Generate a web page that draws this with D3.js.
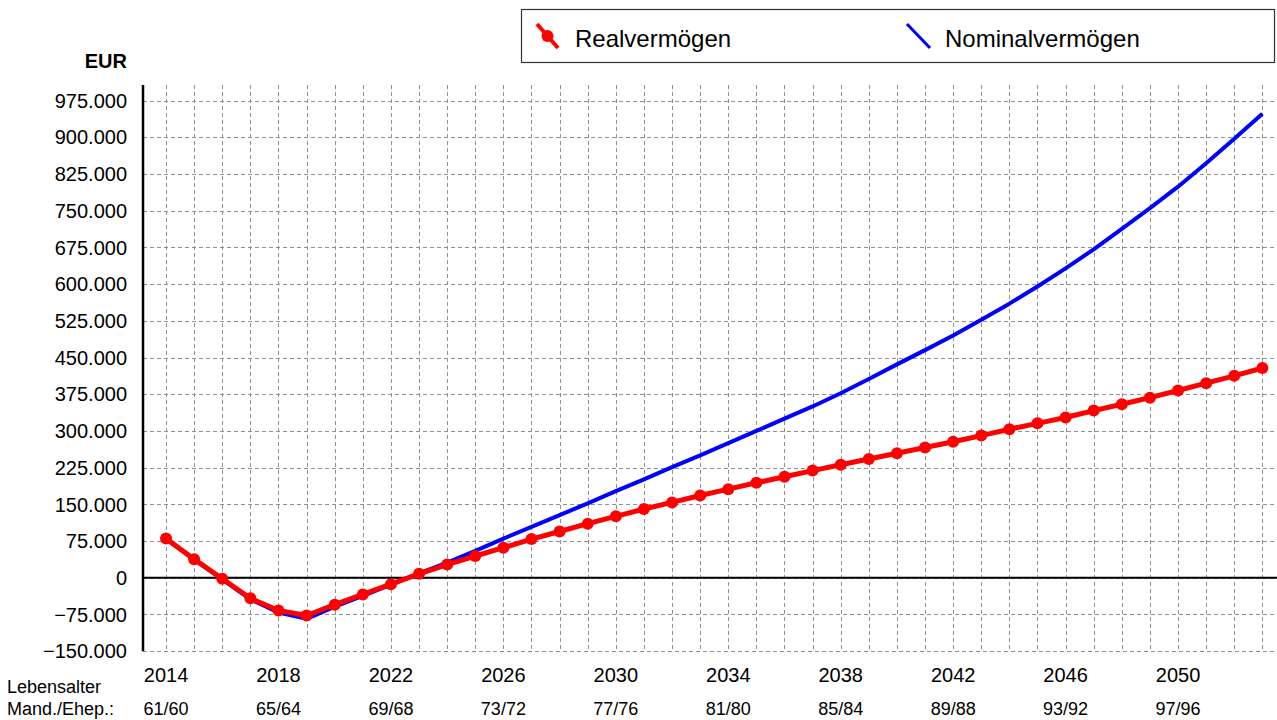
<!DOCTYPE html>
<html>
<head>
<meta charset="utf-8">
<script src="https://cdn.jsdelivr.net/npm/d3@7"></script>
<style>
  html, body { margin: 0; padding: 0; background: #fff; }
  svg { display: block; font-family: "Liberation Sans", Arial, sans-serif; }
</style>
</head>
<body>
<svg id="chart" width="1277" height="720"></svg>
<script>
const years = d3.range(2014, 2054);
const realValues = [
  80000, 38000, -2000, -42000, -67000, -77000, -55000, -34000, -13000, 8000,
  27000, 44500, 61500, 79000, 94500, 110500, 125500, 140500, 154000, 168000,
  181000, 194000, 206500, 219000, 231000, 242500, 254500, 266000, 278000, 290500,
  303500, 315500, 327500, 341500, 354500, 368000, 382500, 397500, 412500, 428500
];
const nominalValues = [
  80000, 37000, -3000, -44000, -71000, -84000, -59000, -37000, -14000, 9000,
  31000, 55000, 80000, 104000, 128000, 152000, 177000, 201000, 226000, 250000,
  275000, 300000, 325000, 350000, 377000, 406000, 436000, 465000, 495000, 527000,
  560000, 595000, 632000, 671000, 713000, 755000, 799000, 847000, 897000, 948000
];
const yTicks = d3.range(-150000, 975001, 75000);
const xLabelYears = [2014, 2018, 2022, 2026, 2030, 2034, 2038, 2042, 2046, 2050];
const ageLabels = ["61/60", "65/64", "69/68", "73/72", "77/76", "81/80", "85/84", "89/88", "93/92", "97/96"];
const seriesNames = ["Realvermögen", "Nominalvermögen"];

const svg = d3.select("#chart");
const pLeft = 143, pRight = 1277, pTop = 85, pBottom = 651.2;

const x = d3.scaleLinear().domain([2013.18, 2053.52]).range([pLeft, pRight]);
const y = d3.scaleLinear().domain([-150000, 1006700]).range([pBottom, pTop]);

const de = d3.formatLocale({decimal: ",", thousands: ".", grouping: [3], currency: ["", " €"]});
const fmt = de.format(",d");

// grid
const grid = svg.append("g");
grid.selectAll("line.h").data(yTicks).join("line").attr("class", "h")
  .attr("x1", pLeft).attr("x2", pRight)
  .attr("y1", d => Math.round(y(d)) + 0.5).attr("y2", d => Math.round(y(d)) + 0.5)
  .attr("stroke", "#909090").attr("stroke-width", 1).attr("stroke-dasharray", "4,3");
grid.selectAll("line.v").data(years).join("line").attr("class", "v")
  .attr("x1", d => Math.round(x(d)) + 0.5).attr("x2", d => Math.round(x(d)) + 0.5)
  .attr("y1", pTop).attr("y2", pBottom)
  .attr("stroke", "#909090").attr("stroke-width", 1).attr("stroke-dasharray", "4,3");

// zero line
svg.append("line").attr("x1", pLeft).attr("x2", pRight)
  .attr("y1", y(0)).attr("y2", y(0)).attr("stroke", "#000").attr("stroke-width", 2);

// y axis line
svg.append("line").attr("x1", pLeft).attr("x2", pLeft)
  .attr("y1", pTop).attr("y2", pBottom).attr("stroke", "#000").attr("stroke-width", 2.5);

// y tick labels
svg.append("g").selectAll("text").data(yTicks).join("text")
  .attr("x", 127).attr("y", d => y(d)).attr("dy", "0.36em")
  .attr("text-anchor", "end").attr("font-size", 20).attr("fill", "#000")
  .text(d => fmt(d));

svg.append("text").attr("x", 127).attr("y", 68).attr("text-anchor", "end")
  .attr("font-size", 20).attr("font-weight", "bold").text("EUR");

// x labels
svg.append("g").selectAll("text").data(xLabelYears).join("text")
  .attr("x", d => x(d)).attr("y", 682).attr("text-anchor", "middle")
  .attr("font-size", 20).text(d => d);
svg.append("g").selectAll("text").data(xLabelYears).join("text")
  .attr("x", d => x(d)).attr("y", 715).attr("text-anchor", "middle")
  .attr("font-size", 18).text((d, i) => ageLabels[i]);
svg.append("text").attr("x", 7).attr("y", 693).attr("font-size", 18).text("Lebensalter");
svg.append("text").attr("x", 7).attr("y", 715).attr("font-size", 18).text("Mand./Ehep.:");

// lines
const line = d3.line().x((d, i) => x(years[i])).y(d => y(d));
svg.append("path").datum(nominalValues).attr("d", line)
  .attr("fill", "none").attr("stroke", "#0000ff").attr("stroke-width", 4)
  .attr("stroke-linejoin", "round");
svg.append("path").datum(realValues).attr("d", line)
  .attr("fill", "none").attr("stroke", "#ff0000").attr("stroke-width", 5)
  .attr("stroke-linejoin", "round");
svg.append("g").selectAll("circle").data(realValues).join("circle")
  .attr("cx", (d, i) => x(years[i])).attr("cy", d => y(d)).attr("r", 6)
  .attr("fill", "#ff0000");

// legend
const lg = svg.append("g");
lg.append("rect").attr("x", 521.5).attr("y", 9.5).attr("width", 753).attr("height", 53)
  .attr("fill", "#fff").attr("stroke", "#333").attr("stroke-width", 1.2);
lg.append("line").attr("x1", 537).attr("y1", 24).attr("x2", 558).attr("y2", 48)
  .attr("stroke", "#ff0000").attr("stroke-width", 4);
lg.append("circle").attr("cx", 547.5).attr("cy", 36).attr("r", 6).attr("fill", "#ff0000");
lg.append("text").attr("x", 575).attr("y", 47).attr("font-size", 24).text(seriesNames[0]);
lg.append("line").attr("x1", 907).attr("y1", 24).attr("x2", 930).attr("y2", 48)
  .attr("stroke", "#0000ff").attr("stroke-width", 3);
lg.append("text").attr("x", 945).attr("y", 47).attr("font-size", 24).text(seriesNames[1]);
</script>
</body>
</html>
